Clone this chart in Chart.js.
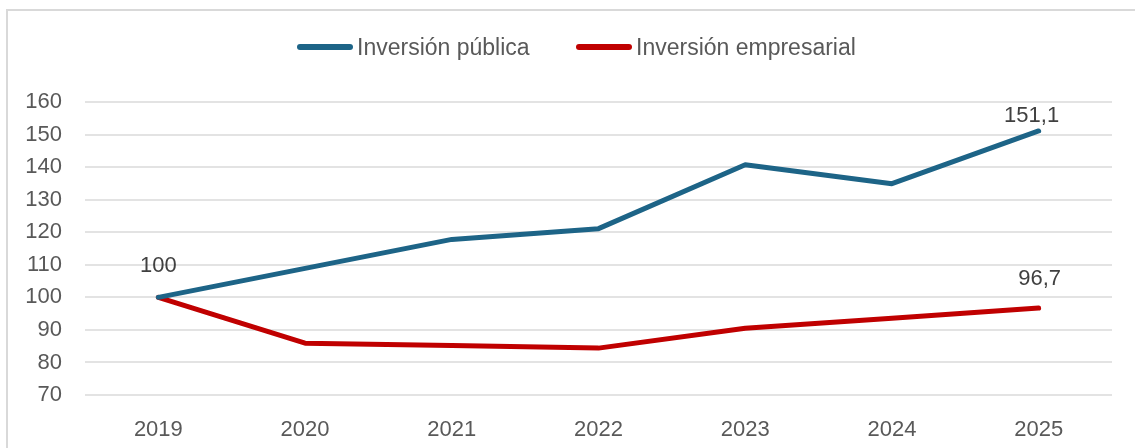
<!DOCTYPE html>
<html>
<head>
<meta charset="utf-8">
<script src="https://cdn.jsdelivr.net/npm/chart.js@4"></script>
<style>
  html, body { margin: 0; padding: 0; background: #fff; overflow: hidden; }
  #frame {
    position: absolute; left: 6px; top: 9px; width: 1200px; height: 500px;
    border: 2px solid #d9d9d9; box-sizing: border-box;
  }
  #wrap { position: absolute; left: 0; top: 0; width: 1135px; height: 448px; }
</style>
</head>
<body>
<div id="frame"></div>
<div id="wrap"><canvas id="chart" width="1135" height="448"></canvas></div>
<script>
"use strict";

const years = ["2019", "2020", "2021", "2022", "2023", "2024", "2025"];
const publicInvestment = [100, 108.9, 117.8, 121.1, 140.7, 134.9, 151.1];
const businessInvestment = [100, 85.9, 85.2, 84.4, 90.5, 93.6, 96.7];
const seriesNames = ["Inversión pública", "Inversión empresarial"];
const yTicks = [70, 80, 90, 100, 110, 120, 130, 140, 150, 160];

const FONT = "'Liberation Sans', Arial, sans-serif";

// which points carry a value label, and how far above the point it sits
const valueLabels = [
    { dataset: 0, index: 0, lift: 31, dx: 0 },
    { dataset: 0, index: 6, lift: 15, dx: -7 },
    { dataset: 1, index: 6, lift: 29, dx: 1 }
];

const labelPlugin = {
    id: "valueLabels",
    afterDatasetsDraw(chart) {
        const ctx = chart.ctx;
        ctx.save();
        ctx.font = "22px " + FONT;
        ctx.fillStyle = "#404040";
        ctx.textAlign = "center";
        ctx.textBaseline = "middle";
        for (const lbl of valueLabels) {
            const pt = chart.getDatasetMeta(lbl.dataset).data[lbl.index];
            const v = chart.data.datasets[lbl.dataset].data[lbl.index];
            ctx.fillText(String(v).replace(".", ","), pt.x + lbl.dx, pt.y - lbl.lift);
        }
        ctx.restore();
    }
};

// legend drawn by hand so it sits exactly where the reference has it
const legendPlugin = {
    id: "topLegend",
    afterDraw(chart) {
        const ctx = chart.ctx;
        ctx.save();
        ctx.font = "23px " + FONT;
        ctx.textBaseline = "middle";
        ctx.fillStyle = "#595959";
        const starts = [297, 576];
        chart.data.datasets.forEach((ds, i) => {
            const x = starts[i];
            ctx.strokeStyle = ds.borderColor;
            ctx.lineWidth = 6;
            ctx.lineCap = "round";
            ctx.beginPath();
            ctx.moveTo(x + 3, 47);
            ctx.lineTo(x + 53, 47);
            ctx.stroke();
            ctx.fillText(ds.label, x + 60, 49);
        });
        ctx.restore();
    }
};

new Chart(document.getElementById("chart").getContext("2d"), {
    type: "line",
    data: {
        labels: years,
        datasets: [
            {
                label: seriesNames[0],
                data: publicInvestment,
                borderColor: "#1d6487",
                borderWidth: 5,
                pointRadius: 0,
                tension: 0,
                borderCapStyle: "round",
                borderJoinStyle: "round"
            },
            {
                label: seriesNames[1],
                data: businessInvestment,
                borderColor: "#c00000",
                borderWidth: 5,
                pointRadius: 0,
                tension: 0,
                borderCapStyle: "round",
                borderJoinStyle: "round"
            }
        ]
    },
    options: {
        responsive: false,
        animation: false,
        layout: { padding: { top: 102, right: 23, bottom: 0, left: 0 } },
        plugins: {
            legend: { display: false },
            tooltip: { enabled: false }
        },
        scales: {
            x: {
                offset: true,
                grid: { display: false, drawTicks: false },
                border: { display: false },
                ticks: {
                    color: "#595959",
                    font: { family: FONT, size: 22 },
                    padding: 22,
                    maxRotation: 0
                },
                afterFit(scale) { scale.height = 53; }
            },
            y: {
                min: 70,
                max: 160,
                afterBuildTicks(scale) {
                    scale.ticks = yTicks.map(v => ({ value: v }));
                },
                grid: { color: "#e3e3e3", lineWidth: 2, drawTicks: false },
                border: { display: false },
                ticks: {
                    color: "#595959",
                    font: { family: FONT, size: 22 },
                    padding: 23
                },
                afterFit(scale) { scale.width = 85; }
            }
        }
    },
    plugins: [labelPlugin, legendPlugin]
});
</script>
</body>
</html>
